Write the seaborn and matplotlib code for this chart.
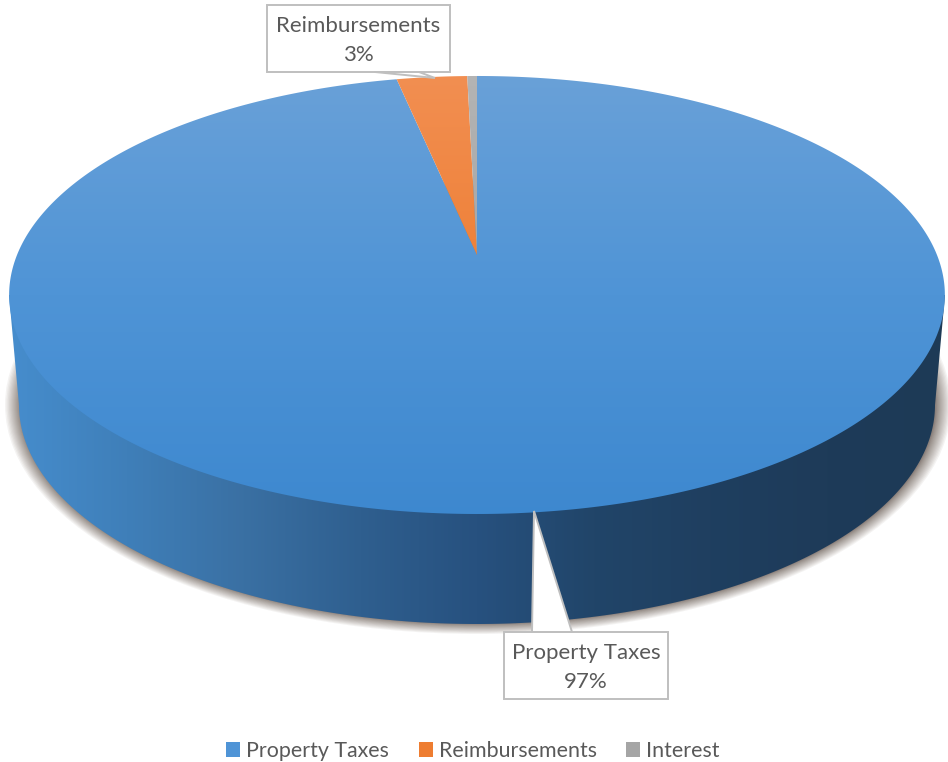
import numpy as np
import matplotlib
matplotlib.use("Agg")
import matplotlib.pyplot as plt
from matplotlib.patches import Ellipse, Polygon, Rectangle
import seaborn as sns

categories = ["Property Taxes", "Reimbursements", "Interest"]
shares = [96.7, 2.9, 0.4]
top_colors = [
    ["#6aa1d8", "#4f94d6", "#3d88cf"],
    ["#f28f52", "#ee7f35", "#f07a22"],
    ["#b4b4b4", "#a5a5a5", "#9a9a9a"],
]
legend_colors = ["#4f94d6", "#ee7d31", "#a5a5a5"]
wall_stops = ["#468dcd", "#3f7fb9", "#3a70a3", "#2f5f8f", "#27517f",
              "#214569", "#1f3f60", "#1e3b59", "#1d3a56"]

sns.set_theme(style="white")
plt.rcParams["font.family"] = ["Lato", "DejaVu Sans"]

W, H = 948, 762
fig = plt.figure(figsize=(W / 100, H / 100), dpi=100, facecolor="white")
ax = fig.add_axes([0, 0, 1, 1])

# Unit-circle wedges come from the pie layout and are then tilted in perspective.
wedges, _ = ax.pie(shares, startangle=90, counterclock=False, frame=True)
ax.set_aspect("auto")

CX, APEX_Y, TILT, AX, BY = 477.0, 255.0, 0.1826, 460.0, 211.7


def tilt_points(x, y):
    d = 1 + TILT * y
    return CX + AX * x / d, APEX_Y - BY * y / d


def gradient_fill(stops, extent, clip, horizontal=False, zorder=2):
    pal = np.array(sns.blend_palette(stops, n_colors=256))
    img = pal[None, :, :] if horizontal else pal[:, None, :]
    im = ax.imshow(img, extent=extent, aspect="auto", origin="upper",
                   interpolation="bilinear", zorder=zorder)
    clip.set(transform=ax.transData, facecolor="none", edgecolor="none")
    ax.add_patch(clip)
    im.set_clip_path(clip)


# Soft shadow under the lower rim, wider at the sides than below
LOW_Y, LOW_RX, RY = 405.0, 458.0, 219.0
for f in np.linspace(1, 0, 16) ** 1.4:
    ax.add_patch(Ellipse((CX + 1, LOW_Y), 2 * (LOW_RX + 15 * f), 2 * (RY + 10 * f),
                         facecolor="#4a3a32", edgecolor="none", alpha=0.06, zorder=1))

# Side wall of the disc
t = np.linspace(np.pi, 0, 240)
wall_x = np.r_[9, CX + LOW_RX * np.cos(t), 945]
wall_y = np.r_[295, LOW_Y + RY * np.sin(t), 295]
gradient_fill(wall_stops, (9, 945, 640, 280),
              Polygon(np.c_[wall_x, wall_y], closed=True), horizontal=True, zorder=2)

# Top face, one clipped gradient per wedge
for wedge, stops in zip(wedges, top_colors):
    th = np.radians(np.linspace(wedge.theta1, wedge.theta2, 720))
    ex, ey = tilt_points(np.cos(th), np.sin(th))
    px = np.r_[CX, ex]
    py = np.r_[APEX_Y, ey]
    wedge.remove()
    gradient_fill(stops, (0, W, 520, 70), Polygon(np.c_[px, py], closed=True), zorder=3)

ax.set_xlim(0, W)
ax.set_ylim(H, 0)
ax.axis("off")

# Callouts with pointers
EDGE = "#bfbfbf"
TEXT = "#595959"
LABEL_SIZE = 16.0
callouts = [
    (categories[1], shares[1], (267, 5, 450, 72),
     [(375, 72), (435, 78), (419, 72)]),
    (categories[0], shares[0], (504, 632, 668, 699),
     [(572, 632), (534, 511), (532, 632)]),
]
for name, value, (x0, y0, x1, y1), ptr in callouts:
    if ptr[1][1] > y1:
        outline = [(x0, y0), (x1, y0), (x1, y1), *ptr, (x0, y1)]
    else:
        outline = [(x0, y0), *ptr, (x1, y0), (x1, y1), (x0, y1)]
    ax.add_patch(Polygon(outline, closed=True, facecolor="white", edgecolor=EDGE,
                         linewidth=1.4, joinstyle="miter", zorder=5))
    ax.text((x0 + x1) / 2, (y0 + y1) / 2 + 2, f"{name}\n{round(value)}%", ha="center",
            va="center", color=TEXT, fontsize=LABEL_SIZE, linespacing=1.55, zorder=6)

# Legend along the bottom edge
handles = [Rectangle((0, 0), 1, 1, facecolor=c, edgecolor="none") for c in legend_colors]
fig.legend(handles, categories, loc="center", bbox_to_anchor=(473 / W, 1 - 751 / H),
           ncol=3, frameon=False, fontsize=15.4, labelcolor=TEXT, handlelength=0.66,
           handleheight=0.66, handletextpad=0.28, columnspacing=1.38, borderpad=0)

fig.savefig("out.png", dpi=100, facecolor="white")
